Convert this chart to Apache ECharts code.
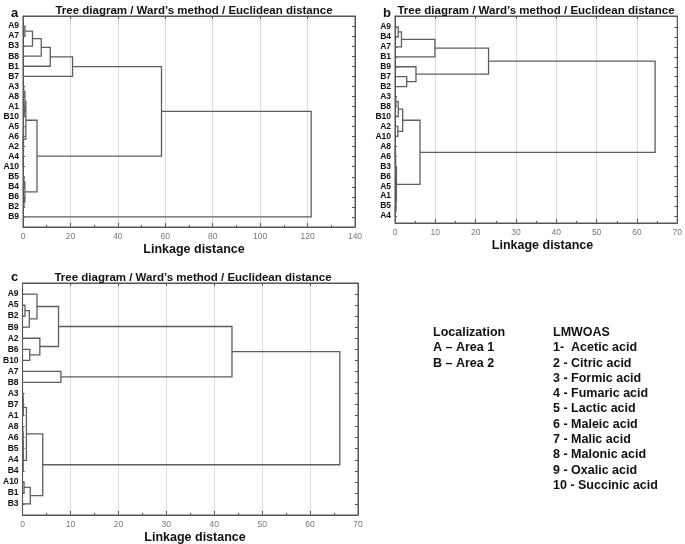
<!DOCTYPE html>
<html>
<head>
<meta charset="utf-8">
<script src="https://cdn.jsdelivr.net/npm/echarts@6/dist/echarts.min.js"></script>
<style>
  html, body { margin: 0; padding: 0; background: #fff; }
  #main { width: 685px; height: 544px; }
</style>
</head>
<body>
<div id="main"></div>
<script>
// leaf order (top to bottom) and merge steps [left, right, linkage distance]
// a number in a merge step points to an earlier step of the same list
var leavesA = ['A9', 'A7', 'B3', 'B8', 'B1', 'B7', 'A3', 'A8', 'A1', 'B10', 'A5', 'A6', 'A2', 'A4', 'A10', 'B5', 'B4', 'B6', 'B2', 'B9'];
var mergesA = [
  ['A9', 'A7', 0.8], [0, 'B3', 4.0], [1, 'B8', 7.7], [2, 'B1', 11.5], [3, 'B7', 20.9],
  ['A3', 'A8', 0.3], ['A1', 'B10', 0.5], [5, 6, 0.8],
  ['A6', 'A2', 0.1], ['A4', 'A10', 0.1], [8, 9, 0.15], ['A5', 10, 0.2], [7, 11, 1.2],
  ['B5', 'B4', 0.4], ['B6', 'B2', 0.4], [13, 14, 0.8],
  [12, 15, 5.9], [4, 16, 58.4], [17, 'B9', 121.5]
];

var leavesB = ['A9', 'B4', 'A7', 'B1', 'B9', 'B7', 'B2', 'A3', 'B8', 'B10', 'A2', 'A10', 'A8', 'A6', 'B3', 'B6', 'A5', 'A1', 'B5', 'A4'];
var mergesB = [
  ['A9', 'B4', 0.8], [0, 'A7', 1.6], [1, 'B1', 9.9],
  ['B7', 'B2', 2.9], ['B9', 3, 5.2], [2, 4, 23.2],
  ['A3', 'B8', 0.2], [6, 'B10', 0.8], ['A2', 'A10', 0.7], [7, 8, 1.9],
  ['A8', 'A6', 0.05], [10, 'B3', 0.1], [11, 'B6', 0.15],
  ['A5', 'A1', 0.15], ['B5', 'A4', 0.1], [13, 14, 0.25], [12, 15, 0.35],
  [9, 16, 6.2], [5, 17, 64.5]
];

var leavesC = ['A9', 'A5', 'B2', 'B9', 'A2', 'B6', 'B10', 'A7', 'B8', 'A3', 'B7', 'A1', 'A8', 'A6', 'B5', 'A4', 'B4', 'A10', 'B1', 'B3'];
var mergesC = [
  ['A5', 'B2', 0.5], [0, 'B9', 1.4], ['A9', 1, 3.0],
  ['B6', 'B10', 1.5], ['A2', 3, 3.6], [2, 4, 7.5],
  ['A7', 'B8', 8.0], [5, 6, 43.7],
  ['A3', 'B7', 0.1], [8, 'A1', 0.15],
  ['A8', 'A6', 0.05], [10, 'B5', 0.08], [11, 'A4', 0.1], [12, 'B4', 0.12], [9, 13, 0.8],
  ['A10', 'B1', 0.3], [15, 'B3', 1.6], [14, 16, 4.2],
  [7, 17, 66.2]
];

var titleText = 'Tree diagram / Ward\u2019s method / Euclidean distance';
var localization = ['Localization', 'A \u2013 Area 1', 'B \u2013 Area 2'];
var acids = ['LMWOAS', '1-  Acetic acid', '2 - Citric acid', '3 - Formic acid', '4 - Fumaric acid',
  '5 - Lactic acid', '6 - Maleic acid', '7 - Malic acid', '8 - Malonic acid', '9 - Oxalic acid', '10 - Succinic acid'];

// turn merge steps into U-shaped links [hLeft, yLeft, hRight, yRight, h]
function toLinks (leaves, merges) {
  var nodes = []
  function node (ref) {
    if (typeof ref === 'number') return nodes[ref]
    return { y: leaves.indexOf(ref), h: 0 }
  }
  var links = []
  merges.forEach(function (m) {
    var l = node(m[0])
    var r = node(m[1])
    links.push([l.h, l.y, r.h, r.y, m[2]])
    nodes.push({ y: (l.y + r.y) / 2, h: m[2] })
  })
  return links
}

function renderLink (params, api) {
  var p0 = api.coord([api.value(0), api.value(1)])
  var p1 = api.coord([api.value(4), api.value(1)])
  var p2 = api.coord([api.value(4), api.value(3)])
  var p3 = api.coord([api.value(2), api.value(3)])
  return {
    type: 'polyline',
    shape: { points: [p0, p1, p2, p3] },
    style: { stroke: '#5e5e5e', lineWidth: 1.3, fill: null }
  }
}

var panels = [
  { leaves: leavesA, merges: mergesA, xmax: 140, step: 20, ymin: -1, ymax: 20, left: 23, top: 16, width: 332, height: 211, titleX: 189 },
  { leaves: leavesB, merges: mergesB, xmax: 70, step: 10, ymin: -1.1, ymax: 19.7, left: 395, top: 16, width: 285, height: 207, titleX: 531 },
  { leaves: leavesC, merges: mergesC, xmax: 70, step: 10, ymin: -1, ymax: 20, left: 22, top: 283, width: 336, height: 232, titleX: 188 }
]

var frame = '#555'
var grids = [], xAxes = [], yAxes = [], series = [], titles = []
var rows = []
for (var i = 0; i < 20; i++) rows.push(i)

panels.forEach(function (p, k) {
  grids.push({ left: p.left, top: p.top, width: p.width, height: p.height, show: true, borderColor: frame, borderWidth: 1 })
  var lv = p.leaves
  xAxes.push({
    gridIndex: k, type: 'value', min: 0, max: p.xmax, interval: p.step, position: 'bottom',
    axisLine: { onZero: false, lineStyle: { color: frame } },
    axisTick: { inside: true, length: 4, lineStyle: { color: frame } },
    minorTick: { show: true, splitNumber: 2, length: 2, lineStyle: { color: frame } },
    axisLabel: { color: '#777', fontSize: 8.5, fontFamily: 'Liberation Sans', margin: 5 },
    splitLine: { show: true, lineStyle: { color: '#dcdcdc', width: 1 } }
  })
  xAxes.push({
    gridIndex: k, type: 'value', min: 0, max: p.xmax, interval: p.step, position: 'top',
    axisLine: { onZero: false, lineStyle: { color: frame } },
    axisTick: { inside: true, length: 3, lineStyle: { color: frame } },
    axisLabel: { show: false }, splitLine: { show: false }
  })
  yAxes.push({
    gridIndex: k, type: 'value', min: p.ymin, max: p.ymax, inverse: true, position: 'left',
    axisLine: { onZero: false, lineStyle: { color: frame } },
    axisTick: { inside: true, length: 2, customValues: rows, lineStyle: { color: frame } },
    axisLabel: {
      customValues: rows, color: '#111', fontSize: 8.5, fontWeight: 'bold', fontFamily: 'Liberation Sans', margin: 4,
      formatter: function (v) { return lv[Math.round(v)] }
    },
    splitLine: { show: false }
  })
  yAxes.push({
    gridIndex: k, type: 'value', min: p.ymin, max: p.ymax, inverse: true, position: 'right',
    axisLine: { onZero: false, lineStyle: { color: frame } },
    axisTick: { inside: true, length: 3, customValues: rows, lineStyle: { color: frame } },
    axisLabel: { show: false }, splitLine: { show: false }
  })
  series.push({
    type: 'custom', xAxisIndex: 2 * k, yAxisIndex: 2 * k,
    renderItem: renderLink, encode: { x: [0, 2, 4], y: [1, 3] },
    data: toLinks(p.leaves, p.merges), silent: true
  })
  titles.push({
    text: titleText, left: p.titleX, textAlign: 'center', top: p.top - 16,
    textStyle: { fontSize: 11.5, fontWeight: 'bold', color: '#111', fontFamily: 'Liberation Sans' }
  })
  titles.push({
    text: 'Linkage distance', left: p.left + p.width / 2, textAlign: 'center', top: p.top + p.height + 11,
    textStyle: { fontSize: 12.5, fontWeight: 'bold', color: '#111', fontFamily: 'Liberation Sans' }
  })
})

var letters = [['a', 6, 2], ['b', 378, 2], ['c', 6, 266]]
letters.forEach(function (l) {
  titles.push({ text: l[0], left: l[1], top: l[2], textStyle: { fontSize: 13, fontWeight: 'bold', color: '#111', fontFamily: 'Liberation Sans' } })
})

var graphics = []
localization.forEach(function (t, i) {
  graphics.push({ type: 'text', left: 433, top: 326 + i * 15.3, style: { text: t, fontSize: 12.5, fontWeight: 'bold', fill: '#111', fontFamily: 'Liberation Sans' } })
})
acids.forEach(function (t, i) {
  graphics.push({ type: 'text', left: 553, top: 326 + i * 15.3, style: { text: t, fontSize: 12.5, fontWeight: 'bold', fill: '#111', fontFamily: 'Liberation Sans' } })
})

var myChart = echarts.init(document.getElementById('main'))
myChart.setOption({
  animation: false,
  backgroundColor: '#fff',
  title: titles,
  grid: grids,
  xAxis: xAxes,
  yAxis: yAxes,
  series: series,
  graphic: graphics
})
</script>
</body>
</html>
